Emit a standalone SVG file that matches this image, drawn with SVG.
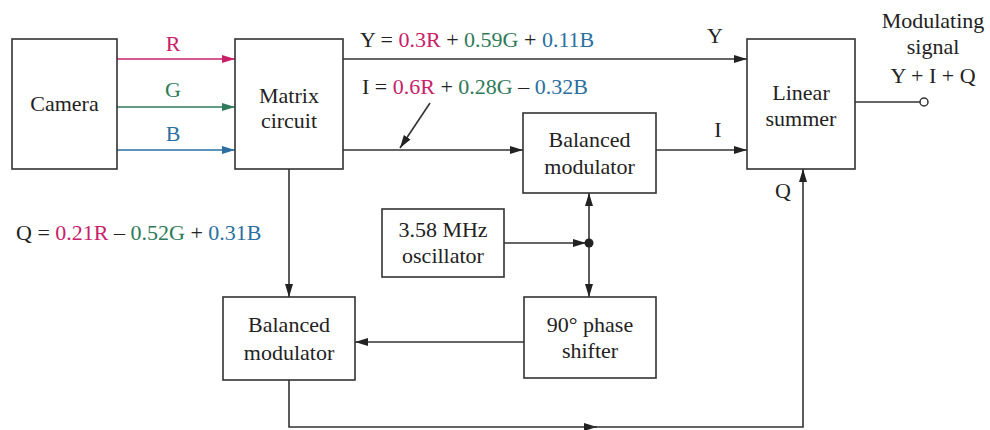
<svg xmlns="http://www.w3.org/2000/svg" width="990" height="430" viewBox="0 0 990 430">
<defs>
<style>
.box{fill:#fff;stroke:#333;stroke-width:1.6}
.t{font-family:"Liberation Serif","Times New Roman",serif;font-size:22px;fill:#222}
.c{text-anchor:middle}
.ln{fill:none;stroke:#333;stroke-width:1.6}
.r{fill:#c8206a}.g{fill:#2e7a5a}.b{fill:#2a6fa0}
</style>
<marker id="ah" markerUnits="userSpaceOnUse" markerWidth="14" markerHeight="10" refX="13" refY="5" orient="auto"><path d="M0,1 L13,5 L0,9 Z" fill="#222"/></marker>
<marker id="ahR" markerUnits="userSpaceOnUse" markerWidth="14" markerHeight="10" refX="13" refY="5" orient="auto"><path d="M0,1 L13,5 L0,9 Z" fill="#c8206a"/></marker>
<marker id="ahG" markerUnits="userSpaceOnUse" markerWidth="14" markerHeight="10" refX="13" refY="5" orient="auto"><path d="M0,1 L13,5 L0,9 Z" fill="#2e7a5a"/></marker>
<marker id="ahB" markerUnits="userSpaceOnUse" markerWidth="14" markerHeight="10" refX="13" refY="5" orient="auto"><path d="M0,1 L13,5 L0,9 Z" fill="#2a6fa0"/></marker>
</defs>
<rect width="990" height="430" fill="#fff"/>

<g id="connectors">
<path d="M117,59 H235" fill="none" stroke="#c8206a" stroke-width="1.6" marker-end="url(#ahR)"/>
<path d="M117,107 H235" fill="none" stroke="#2e7a5a" stroke-width="1.6" marker-end="url(#ahG)"/>
<path d="M117,150 H235" fill="none" stroke="#2a6fa0" stroke-width="1.6" marker-end="url(#ahB)"/>
<path class="ln" d="M343,59 H747" marker-end="url(#ah)"/>
<path class="ln" d="M343,150 H523" marker-end="url(#ah)"/>
<path class="ln" d="M656,150 H747" marker-end="url(#ah)"/>
<path class="ln" d="M289,169 V297" marker-end="url(#ah)"/>
<path class="ln" d="M504,243 H586" marker-end="url(#ah)"/>
<path class="ln" d="M589,243 V193" marker-end="url(#ah)"/>
<path class="ln" d="M589,243 V297" marker-end="url(#ah)"/>
<path class="ln" d="M524,342 H355" marker-end="url(#ah)"/>
<path class="ln" d="M289,380 V427 H597" marker-end="url(#ah)"/>
<path class="ln" d="M590,427 H803 V169" marker-end="url(#ah)"/>
<path class="ln" d="M855,102 H920"/>
<path class="ln" d="M430,103 L400,148" marker-end="url(#ah)"/>
<circle cx="589" cy="243" r="4.5" fill="#222"/>
<circle cx="924" cy="102" r="4" fill="#fff" stroke="#333" stroke-width="1.5"/>
</g>

<g id="camera"><rect class="box" x="12" y="39" width="105" height="130"/><text class="t c" x="64.5" y="111">Camera</text></g>
<g id="matrix"><rect class="box" x="235" y="39" width="108" height="130"/><text class="t c" x="289" y="103">Matrix</text><text class="t c" x="289" y="128">circuit</text></g>
<g id="summer"><rect class="box" x="747" y="39" width="108" height="130"/><text class="t c" x="801" y="100">Linear</text><text class="t c" x="801" y="126">summer</text></g>
<g id="bm1"><rect class="box" x="523" y="113" width="133" height="80"/><text class="t c" x="589.5" y="147">Balanced</text><text class="t c" x="589.5" y="174">modulator</text></g>
<g id="osc"><rect class="box" x="382" y="209" width="122" height="68"/><text class="t c" x="443" y="237">3.58 MHz</text><text class="t c" x="443" y="263">oscillator</text></g>
<g id="phase"><rect class="box" x="524" y="297" width="132" height="81"/><text class="t c" x="590" y="332">90° phase</text><text class="t c" x="590" y="358">shifter</text></g>
<g id="bm2"><rect class="box" x="223" y="297" width="132" height="83"/><text class="t c" x="289" y="332">Balanced</text><text class="t c" x="289" y="360">modulator</text></g>

<g id="labels">
<text class="t c r" x="173" y="51">R</text>
<text class="t c g" x="173" y="97">G</text>
<text class="t c b" x="173" y="141">B</text>
<text class="t c" x="715" y="43">Y</text>
<text class="t c" x="718" y="137">I</text>
<text class="t c" x="783" y="198">Q</text>
<text class="t c" x="933" y="28">Modulating</text>
<text class="t c" x="933" y="54">signal</text>
<text class="t c" x="933" y="83">Y + I + Q</text>
<text class="t" x="360" y="47">Y = <tspan class="r">0.3R</tspan> + <tspan class="g">0.59G</tspan> + <tspan class="b">0.11B</tspan></text>
<text class="t" x="362" y="94">I = <tspan class="r">0.6R</tspan> + <tspan class="g">0.28G</tspan> – <tspan class="b">0.32B</tspan></text>
<text class="t" x="16" y="240">Q = <tspan class="r">0.21R</tspan> – <tspan class="g">0.52G</tspan> + <tspan class="b">0.31B</tspan></text>
</g>
</svg>
